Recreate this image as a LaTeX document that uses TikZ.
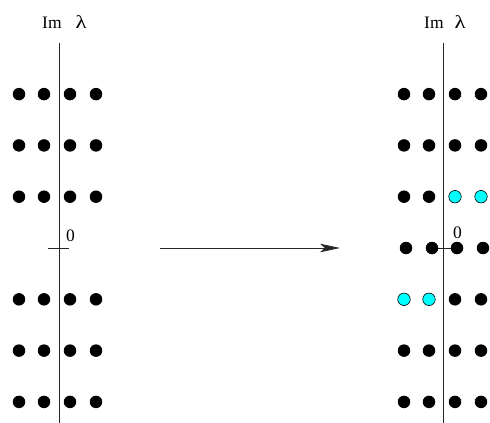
\documentclass[tikz,border=0pt]{standalone}
\usepackage{fontspec}
\setmainfont{Liberation Serif}
\usetikzlibrary{arrows.meta}
\definecolor{dotcyan}{RGB}{0,255,255}
\newcommand{\mylam}{\scalebox{1.3}[1.05]{λ}}
\tikzset{
  bdot/.style={circle,fill=black,inner sep=0pt,minimum size=12.5pt},
  cdot/.style={circle,fill=dotcyan,draw=black,line width=0.6pt,inner sep=0pt,minimum size=12.5pt},
  axis/.style={line width=0.8pt,draw=black!85},
  lbl/.style={font=\fontsize{17.5pt}{20pt}\selectfont,inner sep=0pt},
  flow/.style={line width=0.8pt,draw=black!85,-{Stealth[length=20pt,width=8.5pt,inset=5pt]}}
}
\begin{document}
\begin{tikzpicture}[x=1pt,y=-1pt]
\useasboundingbox (0,0) rectangle (490,423);
% axes
\coordinate (lt) at (59,43); \coordinate (lb) at (59,423);
\coordinate (rt) at (443,43); \coordinate (rb) at (443,423);
\draw[axis] (lt) -- (lb);
\draw[axis] (rt) -- (rb);
% left tick
\coordinate (tl) at (48,248); \coordinate (tr) at (69,248);
\draw[axis] (tl) -- (tr);
% right horizontal segment
\coordinate (hl) at (432,248); \coordinate (hr) at (457,248);
\draw[axis] (hl) -- (hr);
% labels
\node[lbl,anchor=base west] (imL) at (42,28.7) {Im\hspace{14pt}\mylam};
\node[lbl,anchor=base west] (imR) at (424,28.7) {Im\hspace{11pt}\mylam};
\node[lbl,anchor=base west] (zL) at (66,241) {0};
\node[lbl,anchor=base west] (zR) at (453,238) {0};
% left dots
\foreach \r/\y in {1/94.1,2/145.4,3/196.7,5/299.3,6/350.6,7/401.9}{
  \foreach \c/\x in {1/19,2/44,3/70,4/96}{
    \node[bdot] (L\r\c) at (\x,\y) {};
  }
}
% right dots
\foreach \r/\y in {1/94.1,2/145.4,6/350.6,7/401.9}{
  \foreach \c/\x in {1/404,2/429,3/455,4/481}{
    \node[bdot] (R\r\c) at (\x,\y) {};
  }
}
\node[bdot] (R31) at (404,196.7) {};
\node[bdot] (R32) at (429,196.7) {};
\node[cdot] (R33) at (455,196.7) {};
\node[cdot] (R34) at (481,196.7) {};
\node[bdot] (R41) at (406,248) {};
\node[bdot] (R42) at (432,248) {};
\node[bdot] (R43) at (457,248) {};
\node[bdot] (R44) at (483,248) {};
\node[cdot] (R51) at (404,299.3) {};
\node[cdot] (R52) at (429,299.3) {};
\node[bdot] (R53) at (455,299.3) {};
\node[bdot] (R54) at (481,299.3) {};
% arrow
\coordinate (as) at (160,248);
\coordinate (ae) at (340,248);
\draw[flow] (as) -- (ae);
\end{tikzpicture}
\end{document}
